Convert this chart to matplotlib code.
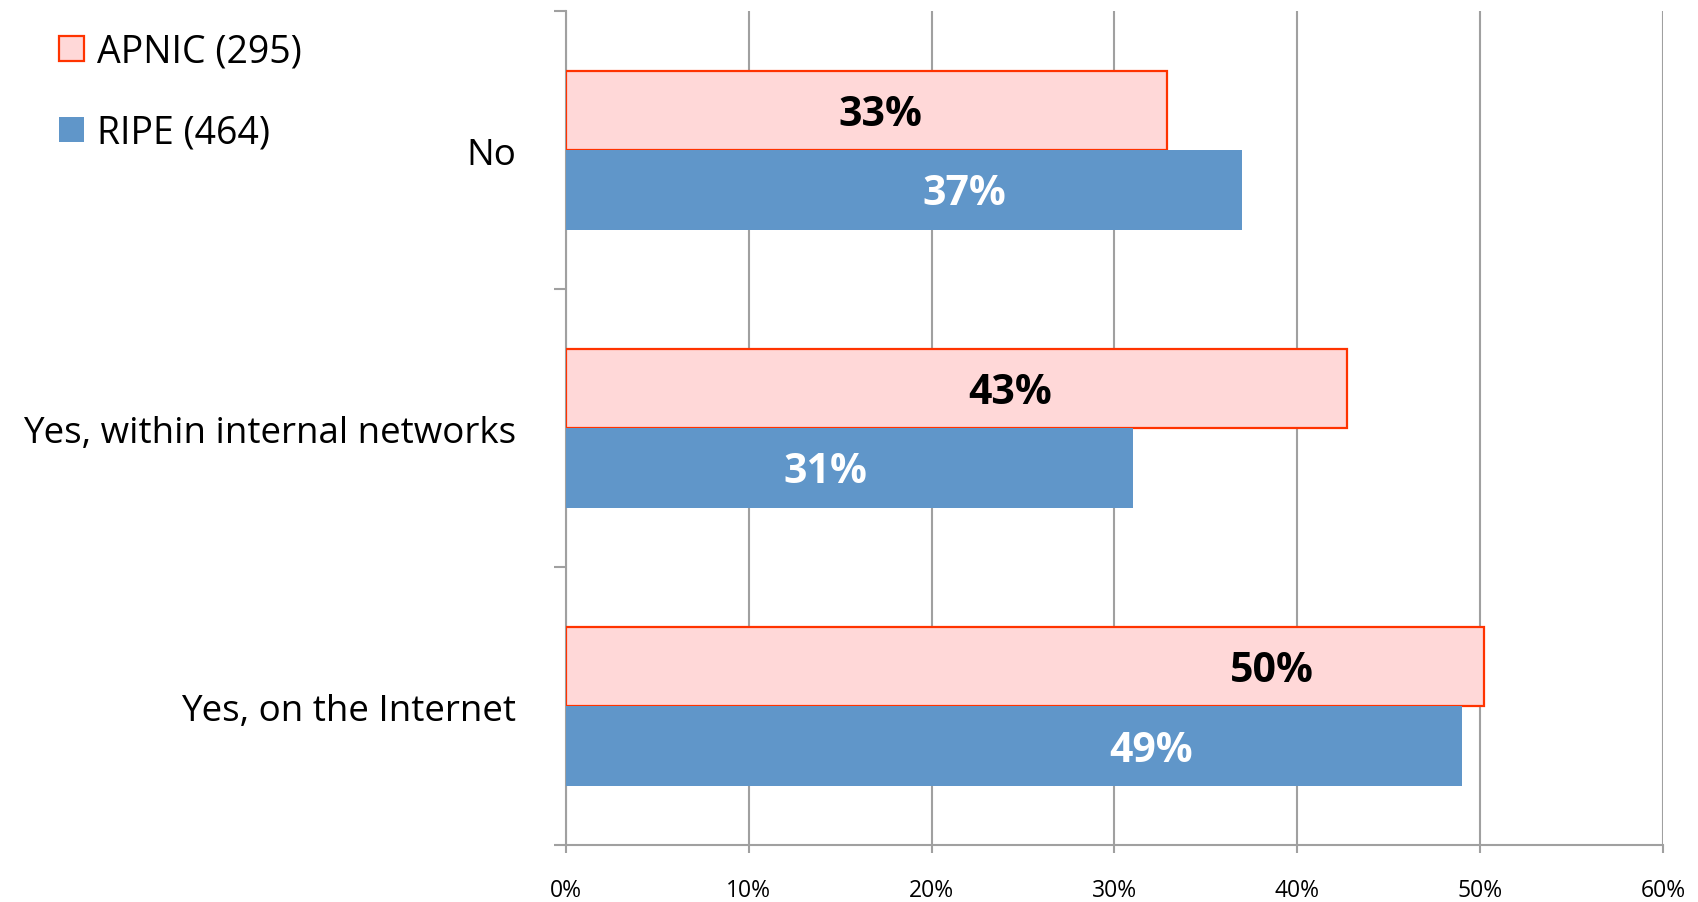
import matplotlib.pyplot as plt
import numpy as np

plt.rcParams['font.family'] = ['Open Sans', 'DejaVu Sans']

categories = ['No', 'Yes, within internal networks', 'Yes, on the Internet']
apnic = [32.9, 42.7, 50.2]
ripe = [37.0, 31.0, 49.0]
apnic_labels = ['33%', '43%', '50%']
ripe_labels = ['37%', '31%', '49%']
# where Excel put the value labels (in % units along x)
apnic_label_x = [17.2, 24.3, 38.6]
ripe_label_x = [21.8, 14.2, 32.0]
xticks = [0, 10, 20, 30, 40, 50, 60]

grey = '#A0A0A0'
fig = plt.figure(figsize=(16.99, 9.03), dpi=100)
ax = fig.add_axes([0.333, 0.063, 0.6458, 0.9237])

y = np.arange(len(categories))
h = 0.286
ax.barh(y - h / 2, apnic, height=h, color='#FFD8D8', edgecolor='#FF3300',
        linewidth=1.6, label='APNIC (295)', zorder=3)
ax.barh(y + h / 2, ripe, height=h, color='#6096C9', edgecolor='none',
        label='RIPE (464)', zorder=3)

off = 0.015
for i in range(len(categories)):
    ax.text(apnic_label_x[i], y[i] - h / 2 + off, apnic_labels[i], ha='center', va='center',
            fontsize=29.5, fontweight='bold', color='black', zorder=4)
    ax.text(ripe_label_x[i], y[i] + h / 2 + off, ripe_labels[i], ha='center', va='center',
            fontsize=29.5, fontweight='bold', color='white', zorder=4)

ax.set_xlim(0, 60)
ax.set_ylim(2.5, -0.5)
ax.set_xticks(xticks)
ax.set_xticklabels([f'{t}%' for t in xticks], fontsize=16.5)
ax.xaxis.grid(True, color=grey, linewidth=1.5, zorder=0)
ax.tick_params(axis='x', direction='out', length=6, width=1.5, color=grey, pad=18)

ax.set_yticks([-0.5, 0.5, 1.5, 2.5])
ax.set_yticklabels([])
ax.set_yticks(y, minor=True)
ax.set_yticklabels(categories, minor=True, fontsize=26.5)
ax.tick_params(axis='y', which='major', direction='out', length=9, width=1.5, color=grey)
ax.tick_params(axis='y', which='minor', length=0, pad=36)

for s in ['top', 'right']:
    ax.spines[s].set_visible(False)
for s in ['left', 'bottom']:
    ax.spines[s].set_color(grey)
    ax.spines[s].set_linewidth(1.5)

fig.legend(loc='upper left', bbox_to_anchor=(0.015, 1.0), frameon=False, fontsize=27,
           handlelength=0.67, handleheight=0.67, handletextpad=0.35, labelspacing=1.15)

fig.savefig('out.png', dpi=100)
